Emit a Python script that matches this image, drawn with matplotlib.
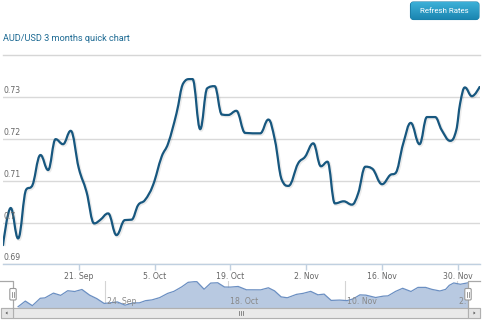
import matplotlib
matplotlib.use('Agg')
import matplotlib.pyplot as plt
import matplotlib.dates as mdates
from matplotlib.path import Path
from matplotlib.patches import PathPatch, FancyBboxPatch, Rectangle, Polygon
from matplotlib.transforms import offset_copy
import numpy as np
import pandas as pd

# ---------------- data ----------------
dates = [
    '2015-09-07 00:00', '2015-09-08 10:00', '2015-09-09 19:00', '2015-09-11 08:00',
    '2015-09-12 06:00', '2015-09-13 22:00', '2015-09-15 08:00', '2015-09-16 17:00',
    '2015-09-18 02:00', '2015-09-19 12:00', '2015-09-21 00:00', '2015-09-22 10:00',
    '2015-09-23 20:00', '2015-09-24 22:00', '2015-09-26 10:00', '2015-09-27 23:00',
    '2015-09-29 12:00', '2015-09-30 18:00', '2015-10-01 23:00', '2015-10-03 05:00',
    '2015-10-04 17:00', '2015-10-06 07:00', '2015-10-07 12:00', '2015-10-09 01:00',
    '2015-10-10 07:00', '2015-10-11 12:00', '2015-10-12 00:00', '2015-10-13 10:00',
    '2015-10-14 17:00', '2015-10-16 02:00', '2015-10-17 10:00', '2015-10-18 14:00',
    '2015-10-20 02:00', '2015-10-21 17:00', '2015-10-24 12:00', '2015-10-26 00:00',
    '2015-10-27 05:00', '2015-10-28 12:00', '2015-10-29 17:00', '2015-10-31 12:00',
    '2015-11-01 19:00', '2015-11-03 07:00', '2015-11-04 17:00', '2015-11-05 22:00',
    '2015-11-07 07:00', '2015-11-08 22:00', '2015-11-10 10:00', '2015-11-11 14:00',
    '2015-11-12 22:00', '2015-11-14 02:00', '2015-11-16 00:00', '2015-11-17 12:00',
    '2015-11-18 10:00', '2015-11-19 22:00', '2015-11-21 07:00', '2015-11-22 22:00',
    '2015-11-24 07:00', '2015-11-25 19:00', '2015-11-27 00:00', '2015-11-28 14:00',
    '2015-11-29 17:00', '2015-11-30 10:00', '2015-12-01 07:00', '2015-12-02 14:00',
    '2015-12-04 00:00',
]
rates = [
    0.6946, 0.7035, 0.6962, 0.7080,
    0.7086, 0.7162, 0.7126, 0.7200,
    0.7188, 0.7220, 0.7130, 0.7074,
    0.6998, 0.7006, 0.7022, 0.6970,
    0.7006, 0.7007, 0.7042, 0.7054,
    0.7090, 0.7158, 0.7190, 0.7262,
    0.7334, 0.7344, 0.7344, 0.7224,
    0.7322, 0.7327, 0.7259, 0.7258,
    0.7268, 0.7215, 0.7214, 0.7247,
    0.7198, 0.7102, 0.7088, 0.7142,
    0.7158, 0.7190, 0.7135, 0.7146,
    0.7046, 0.7051, 0.7043, 0.7070,
    0.7134, 0.7130, 0.7092, 0.7114,
    0.7118, 0.7190, 0.7239, 0.7188,
    0.7253, 0.7253, 0.7222, 0.7196,
    0.7222, 0.7286, 0.7324, 0.7303,
    0.7325,
]
y_ticks = [0.69, 0.70, 0.71, 0.72, 0.73]
y_tick_labels = ['0.69', '0.7', '0.71', '0.72', '0.73']
x_ticks = ['2015-09-21', '2015-10-05', '2015-10-19', '2015-11-02', '2015-11-16', '2015-11-30']
x_tick_labels = ['21. Sep', '5. Oct', '19. Oct', '2. Nov', '16. Nov', '30. Nov']
nav_ticks = ['2015-09-24', '2015-10-18', '2015-11-10', '2015-12-02']
nav_tick_labels = ['24. Sep', '18. Oct', '10. Nov', '2. Dec']
title = 'AUD/USD 3 months quick chart'
button_label = 'Refresh Rates'

# ---------------- figure ----------------
W, H = 490, 322
fig = plt.figure(figsize=(W / 100, H / 100), dpi=100)
fig.patch.set_facecolor('white')


def px_axes(x0, y0, x1, y1, z):
    a = fig.add_axes([x0 / W, 1 - y1 / H, (x1 - x0) / W, (y1 - y0) / H])
    a.set_zorder(z)
    return a


def spline_path(xs, ys, smoothing=1.5):
    n = len(xs)
    lc = [None] * n
    rc = [None] * n
    for i in range(n):
        px, py = xs[i], ys[i]
        if i == 0 or i == n - 1:
            lc[i] = (px, py)
            rc[i] = (px, py)
            continue
        lx, ly = xs[i - 1], ys[i - 1]
        nx, ny = xs[i + 1], ys[i + 1]
        d = smoothing + 1
        lcx = (smoothing * px + lx) / d
        lcy = (smoothing * py + ly) / d
        rcx = (smoothing * px + nx) / d
        rcy = (smoothing * py + ny) / d
        if rcx != lcx:
            corr = ((rcy - lcy) * (rcx - px)) / (rcx - lcx) + py - rcy
            lcy += corr
            rcy += corr
        if lcy > ly and lcy > py:
            lcy = max(ly, py); rcy = 2 * py - lcy
        elif lcy < ly and lcy < py:
            lcy = min(ly, py); rcy = 2 * py - lcy
        if rcy > ny and rcy > py:
            rcy = max(ny, py); lcy = 2 * py - rcy
        elif rcy < ny and rcy < py:
            rcy = min(ny, py); lcy = 2 * py - rcy
        lc[i] = (lcx, lcy)
        rc[i] = (rcx, rcy)
    verts = [(xs[0], ys[0])]
    codes = [Path.MOVETO]
    for i in range(1, n):
        verts += [rc[i - 1], lc[i], (xs[i], ys[i])]
        codes += [Path.CURVE4] * 3
    return Path(verts, codes)


def fit_width(t, target_px):
    fig.canvas.draw()
    r = fig.canvas.get_renderer()
    w = t.get_window_extent(r).width
    t.set_fontsize(t.get_fontsize() * target_px / w)


xd = mdates.date2num(pd.to_datetime(dates))
yd = np.array(rates)

# background / decoration overlay (pixel coordinates)
bg = fig.add_axes([0, 0, 1, 1])
bg.set_zorder(0)
bg.set_xlim(0, W)
bg.set_ylim(H, 0)
bg.axis('off')

fg = fig.add_axes([0, 0, 1, 1])
fg.set_zorder(5)
fg.set_xlim(0, W)
fg.set_ylim(H, 0)
fg.axis('off')
fg.patch.set_alpha(0)

# title + separator
t_title = bg.text(3, 38, title, color='#1d6a93', fontsize=8,
                  family=['Liberation Sans Narrow', 'Roboto'], ha='left', va='center')
bg.plot([3, 480], [55, 55], color='#d6d6d6', lw=1.0)

# button with gradient
btn = FancyBboxPatch((410.5, 2), 68.5, 17.5, boxstyle='round,pad=0,rounding_size=3',
                     facecolor='#2499c3', edgecolor='#1c7fa8', lw=0.8)
bg.add_patch(btn)
grad = np.linspace(0, 1, 64).reshape(-1, 1)
im = bg.imshow(grad, extent=(410.5, 479, 19.5, 2), cmap=matplotlib.colors.LinearSegmentedColormap.from_list(
    'b', ['#1a84af', '#3cb0d8']), aspect='auto', origin='lower', zorder=2)
im.set_clip_path(btn)
t_btn = bg.text(444.5, 11, button_label, color='white', fontsize=6,
                family=['Liberation Sans Narrow', 'Roboto'], ha='center', va='center', zorder=3)

# ---------------- main chart ----------------
ax = px_axes(3, 62, 480, 264.3, 1)
ax.patch.set_alpha(0)
ax.set_xlim(mdates.date2num(pd.Timestamp('2015-09-07 00:00')),
            mdates.date2num(pd.Timestamp('2015-12-04 02:00')))
ax.set_ylim(0.69, 0.7385)
for s in ax.spines.values():
    s.set_visible(False)
ax.spines['bottom'].set_visible(True)
ax.spines['bottom'].set_color('#c0d0e0')
ax.spines['bottom'].set_linewidth(1.0)
ax.set_yticks(y_ticks)
ax.set_yticklabels([])
ax.tick_params(axis='y', length=0)
ax.grid(axis='y', color='#d9d9d9', lw=1.0)
ax.set_axisbelow(True)
xt = mdates.date2num(pd.to_datetime(x_ticks))
ax.set_xticks(xt)
ax.set_xticklabels(x_tick_labels, fontsize=5.6, color='#666666')
ax.tick_params(axis='x', length=4, width=1, color='#c0d0e0', pad=1.5)
ytr = ax.get_yaxis_transform()
for v, lab in zip(y_ticks, y_tick_labels):
    ax.annotate(lab, (0, v), xycoords=ytr, xytext=(0, 1.5), textcoords='offset points',
                fontsize=5.6, color='#666666', ha='left', va='bottom')

# shadow + line
path = spline_path(xd, yd)
shadow = PathPatch(path, fill=False, edgecolor='black', lw=2.4, alpha=0.08,
                   transform=offset_copy(ax.transData, fig=fig, x=0.7, y=-0.7, units='points'))
ax.add_patch(shadow)
ax.add_patch(PathPatch(path, fill=False, edgecolor='#17577f', lw=1.6, capstyle='round',
                       joinstyle='round'))

# ---------------- navigator ----------------
nav = px_axes(13, 281, 468, 308, 2)
nav.patch.set_alpha(0)
nav.set_xlim(mdates.date2num(pd.Timestamp('2015-09-06 00:00')),
             mdates.date2num(pd.Timestamp('2015-12-04 02:00')))
nav.set_ylim(0.6925, 0.7355)
nav.axis('off')
nt = mdates.date2num(pd.to_datetime(nav_ticks))
for x, lab in zip(nt, nav_tick_labels):
    nav.axvline(x, color='#d4d4d4', lw=0.8, zorder=0)
    nav.annotate(lab, (x, 0.0), xycoords=nav.get_xaxis_transform(), xytext=(1.5, 1.2),
                 textcoords='offset points', fontsize=5.6, color='#888888',
                 ha='left', va='bottom', zorder=3, annotation_clip=False, clip_on=True)
nav.fill_between(xd, yd, 0.6925, color='#b8c9e1', lw=0, zorder=1)
nav.plot(xd, yd, color='#6b8fc2', lw=0.9, zorder=2)

# navigator outline, handles
oc = '#a8a8a8'
fg.plot([0, 13, 13], [281, 281, 308], color=oc, lw=0.9)
fg.plot([480, 468, 468], [281, 281, 308], color=oc, lw=0.9)
for hx in (13, 468):
    fg.add_patch(FancyBboxPatch((hx - 3.2, 288.5), 6.4, 11.5,
                                boxstyle='round,pad=0,rounding_size=1.2',
                                facecolor='white', edgecolor='#999999', lw=0.8, zorder=4))
    fg.plot([hx - 0.9, hx - 0.9], [291.5, 297], color='#888888', lw=0.6, zorder=5)
    fg.plot([hx + 0.9, hx + 0.9], [291.5, 297], color='#888888', lw=0.6, zorder=5)

# scrollbar
fg.add_patch(Rectangle((0.5, 308), 479.5, 10, facecolor='#eeeeee', edgecolor='#bbbbbb', lw=0.8))
fg.add_patch(Rectangle((13, 308), 455, 10, facecolor='#e9e9e9', edgecolor='#b0b0b0', lw=0.8))
for bx in (0.5, 468):
    fg.add_patch(Rectangle((bx, 308), 12, 10, facecolor='#e4e4e4', edgecolor='#b0b0b0', lw=0.8))
fg.add_patch(Polygon([[5.5, 313], [7.5, 311.5], [7.5, 314.5]], closed=True, color='#555555', lw=0))
fg.add_patch(Polygon([[475.5, 313], [473.5, 311.5], [473.5, 314.5]], closed=True, color='#555555', lw=0))
for gx in (238.5, 240.5, 242.5):
    fg.plot([gx, gx], [311, 315], color='#777777', lw=0.6)

# fit text widths
fit_width(t_title, 128)
fit_width(t_btn, 49)

fig.savefig('out.png', dpi=100, facecolor='white')
